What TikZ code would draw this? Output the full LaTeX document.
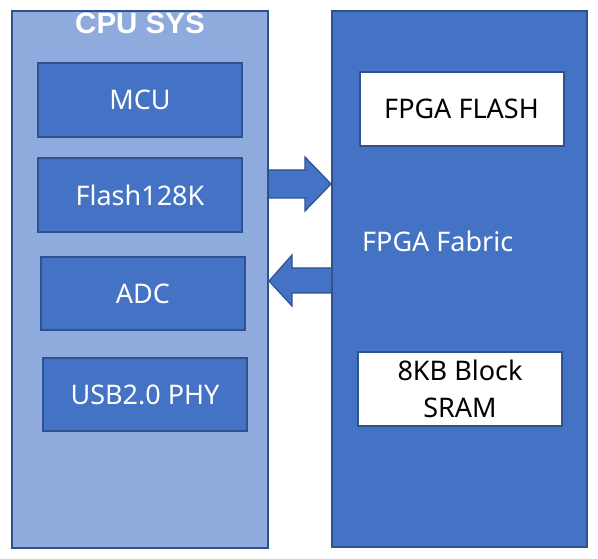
\documentclass[tikz,border=0pt]{standalone}
\usepackage{fontspec}
\setmainfont{Noto Sans}
\newfontfamily\titlefont{Liberation Sans}
\definecolor{lightblk}{HTML}{8FAADC}
\definecolor{darkblk}{HTML}{4472C4}
\definecolor{edgeblk}{HTML}{2F528F}
\begin{document}
\begin{tikzpicture}[x=1pt,y=-1pt,
  panel/.style={draw=edgeblk,line width=2pt,inner sep=0pt},
  unit/.style={draw=edgeblk,line width=2pt,fill=darkblk,text=white,minimum width=204pt,inner sep=0pt,font=\fontsize{27}{32}\selectfont},
  memblk/.style={draw=edgeblk,line width=2pt,fill=white,text=black,minimum width=204pt,minimum height=74pt,inner sep=0pt,align=center,font=\fontsize{27}{37}\selectfont},
  blockarrow/.style={draw=edgeblk,line width=1.2pt,fill=darkblk,line join=miter}]
\useasboundingbox (0,0) rectangle (598,559);
\node[panel,fill=lightblk,minimum width=256pt,minimum height=537pt] (cpu) at (140,279.5) {};
\node[panel,fill=darkblk,minimum width=255pt,minimum height=536pt] (fpga) at (459.5,279) {};
\node[text=white,inner sep=0pt,font=\titlefont\bfseries\fontsize{29.5}{32}\selectfont] (cputitle) at (140,23) {CPU SYS};
\node[unit,minimum height=74pt] (mcu) at (140,100) {MCU};
\node[unit,minimum height=74pt] (flash) at (140,195) {Flash128K};
\node[unit,minimum height=73pt] (adc) at (143,293.5) {ADC};
\node[unit,minimum height=73pt] (usb) at (145,394.5) {USB2.0 PHY};
\node[memblk] (fflash) at (461.5,109) {FPGA FLASH};
\node[memblk] (sram) at (460,389) {8KB Block\\SRAM};
\node[anchor=west,inner sep=0pt,text=white,font=\fontsize{27}{32}\selectfont] (fabric) at (362,241) {FPGA Fabric};
% block arrows between the two panels
\draw[blockarrow] (cpu.east |- 0,170) -- (305,170) -- (305,157) -- (fpga.west |- 0,184) -- (305,211) -- (305,198) -- (cpu.east |- 0,198);
\draw[blockarrow] (fpga.west |- 0,268) -- (292,268) -- (292,255) -- (cpu.east |- 0,281) -- (292,306) -- (292,293) -- (fpga.west |- 0,293);
\end{tikzpicture}
\end{document}
